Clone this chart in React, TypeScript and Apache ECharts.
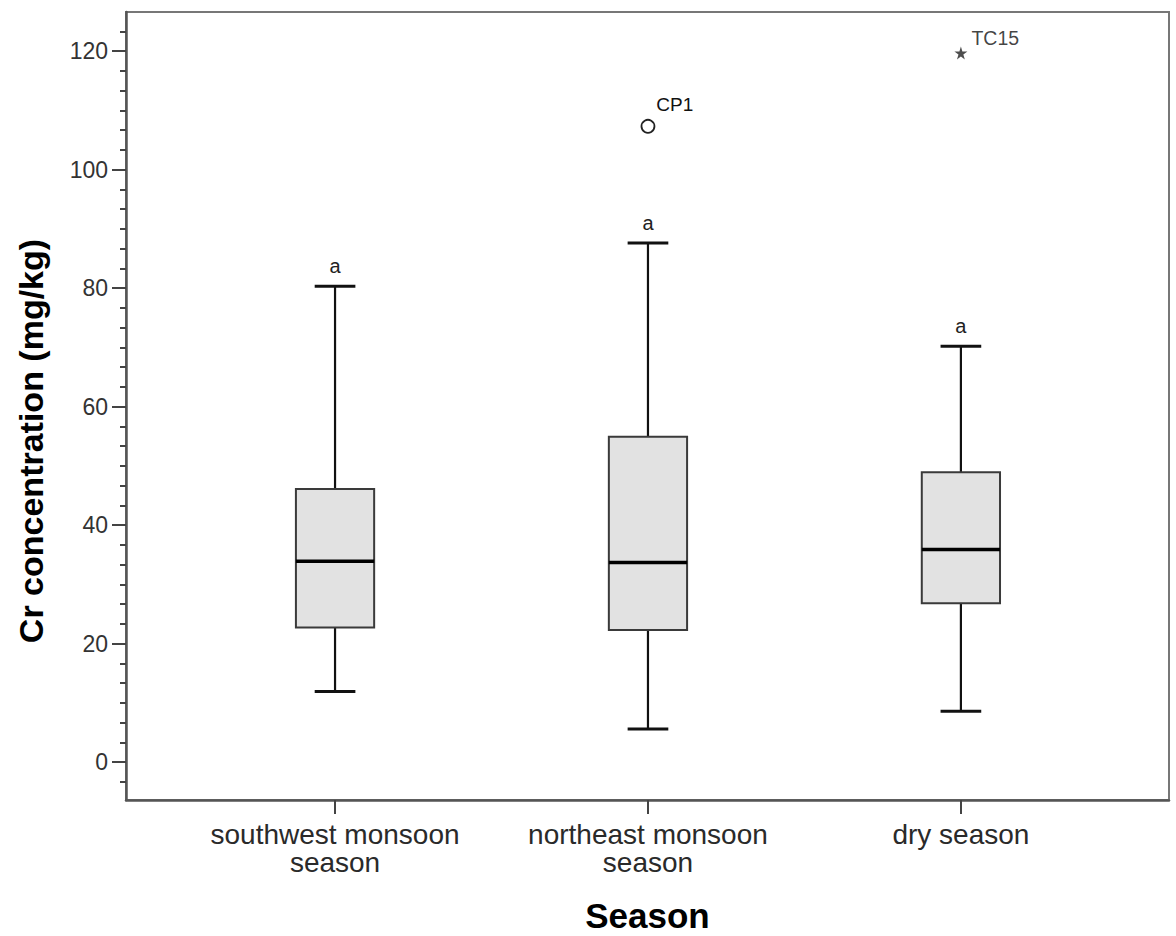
import React, { useEffect, useRef } from "react";
import * as echarts from "echarts";

// ---- data ----
const categories = ["southwest monsoon\nseason", "northeast monsoon\nseason", "dry season"];
const whiskerLow = [11.9, 5.6, 8.6];
const q1 = [22.7, 22.3, 26.8];
const median = [33.9, 33.7, 35.9];
const q3 = [46.1, 54.9, 48.9];
const whiskerHigh = [80.3, 87.6, 70.2];
const sigLetters = ["a", "a", "a"];
const outlierCat = [2];
const outlierValue = [107.3];
const outlierName = ["CP1"];
const extremeCat = [3];
const extremeValue = [119.7];
const extremeName = ["TC15"];
const yTicks = [0, 20, 40, 60, 80, 100, 120];

const FONT = "'Liberation Sans', Arial, sans-serif";
const STAR =
  "path://M50,0 L61,35 L98,35 L68,57 L79,91 L50,70 L21,91 L32,57 L2,35 L39,35 Z";

export default function App() {
  const ref = useRef<HTMLDivElement>(null);
  useEffect(() => {
    if (!ref.current) return;
    const chart = echarts.init(ref.current, null, { renderer: "svg" });

    const yMin = -6.4;
    const yMax = 126.6;
    const minorStep = 20 / 6;
    const minorTicks: number[] = [];
    for (let k = Math.ceil(yMin / minorStep); k * minorStep <= yMax; k++) {
      minorTicks.push(Math.round(k * minorStep * 1000) / 1000);
    }

    const boxData = categories.map((_, i) => [
      i + 1,
      whiskerLow[i],
      q1[i],
      median[i],
      q3[i],
      whiskerHigh[i],
      i,
    ]);

    const renderBox = (params: any, api: any) => {
      const x = api.value(0);
      const idx = api.value(6);
      const pLow = api.coord([x, api.value(1)]);
      const pQ1 = api.coord([x, api.value(2)]);
      const pMed = api.coord([x, api.value(3)]);
      const pQ3 = api.coord([x, api.value(4)]);
      const pHigh = api.coord([x, api.value(5)]);
      const half = api.size([0.25, 0])[0] / 2;
      const capHalf = half * 0.52;
      const cx = pMed[0];
      return {
        type: "group",
        children: [
          {
            type: "line",
            shape: { x1: cx, y1: pHigh[1], x2: cx, y2: pQ3[1] },
            style: { stroke: "#111", lineWidth: 2.2 },
          },
          {
            type: "line",
            shape: { x1: cx, y1: pQ1[1], x2: cx, y2: pLow[1] },
            style: { stroke: "#111", lineWidth: 2.2 },
          },
          {
            type: "line",
            shape: { x1: cx - capHalf, y1: pHigh[1], x2: cx + capHalf, y2: pHigh[1] },
            style: { stroke: "#111", lineWidth: 3 },
          },
          {
            type: "line",
            shape: { x1: cx - capHalf, y1: pLow[1], x2: cx + capHalf, y2: pLow[1] },
            style: { stroke: "#111", lineWidth: 3 },
          },
          {
            type: "rect",
            shape: { x: cx - half, y: pQ3[1], width: half * 2, height: pQ1[1] - pQ3[1] },
            style: { fill: "#e2e2e2", stroke: "#3a3a3a", lineWidth: 2 },
          },
          {
            type: "line",
            shape: { x1: cx - half, y1: pMed[1], x2: cx + half, y2: pMed[1] },
            style: { stroke: "#000", lineWidth: 3.5 },
          },
          {
            type: "text",
            x: cx,
            y: pHigh[1] - 10,
            style: {
              text: sigLetters[idx],
              fontFamily: FONT,
              fontSize: 20,
              fill: "#222",
              align: "center",
              verticalAlign: "bottom",
            },
          },
        ],
      };
    };

    chart.setOption({
      animation: false,
      backgroundColor: "#fff",
      grid: {
        left: 126,
        right: 7,
        top: 12,
        bottom: 136,
        containLabel: false,
        outerBoundsMode: "none",
        show: true,
        borderColor: "#777",
        borderWidth: 2,
        backgroundColor: "transparent",
      },
      xAxis: {
        type: "value",
        min: 0.332,
        max: 3.665,
        name: "Season",
        nameLocation: "middle",
        nameGap: 97,
        nameTextStyle: {
          fontFamily: FONT,
          fontSize: 35,
          lineHeight: 36,
          fontWeight: "bold",
          color: "#000",
        },
        axisLine: { show: true, onZero: false, lineStyle: { color: "#555", width: 2.5 } },
        axisTick: {
          show: true,
          customValues: [1, 2, 3],
          length: 14,
          lineStyle: { color: "#444", width: 2 },
        },
        axisLabel: {
          customValues: [1, 2, 3],
          formatter: (v: number) => categories[Math.round(v) - 1] ?? "",
          fontFamily: FONT,
          fontSize: 28,
          lineHeight: 28,
          color: "#2a2a2a",
          margin: 20,
        },
        splitLine: { show: false },
      },
      yAxis: [
        {
          type: "value",
          min: yMin,
          max: yMax,
          axisLine: { show: true, onZero: false, lineStyle: { color: "#555", width: 2.5 } },
          axisTick: {
            show: true,
            customValues: yTicks,
            length: 14,
            lineStyle: { color: "#444", width: 2 },
          },
          axisLabel: {
            customValues: yTicks,
            fontFamily: FONT,
            fontSize: 23,
            color: "#333",
            margin: 18,
          },
          splitLine: { show: false },
        },
        {
          type: "value",
          min: yMin,
          max: yMax,
          position: "left",
          axisLine: { show: false, onZero: false },
          axisTick: {
            show: true,
            customValues: minorTicks,
            length: 6,
            lineStyle: { color: "#444", width: 2 },
          },
          axisLabel: { show: false },
          splitLine: { show: false },
        },
      ],
      graphic: [
        {
          type: "text",
          x: 31,
          y: 441,
          rotation: Math.PI / 2,
          style: {
            text: "Cr concentration (mg/kg)",
            fontFamily: FONT,
            fontSize: 34,
            fontWeight: "bold",
            fill: "#000",
            align: "center",
            verticalAlign: "middle",
          },
        },
      ],
      series: [
        {
          type: "custom",
          xAxisIndex: 0,
          yAxisIndex: 0,
          renderItem: renderBox,
          encode: { x: 0, y: [1, 2, 3, 4, 5] },
          data: boxData,
          z: 2,
        },
        {
          type: "scatter",
          xAxisIndex: 0,
          yAxisIndex: 0,
          symbol: "circle",
          symbolSize: 13,
          itemStyle: { color: "#ffffff", borderColor: "#222", borderWidth: 1.8, opacity: 1 },
          data: outlierCat.map((c, i) => ({ value: [c, outlierValue[i]], name: outlierName[i] })),
          label: {
            show: true,
            formatter: (p: any) => p.name,
            position: "right",
            distance: 1,
            offset: [0, -22],
            fontFamily: FONT,
            fontSize: 19,
            color: "#111",
          },
          z: 3,
        },
        {
          type: "scatter",
          xAxisIndex: 0,
          yAxisIndex: 0,
          symbol: STAR,
          symbolSize: 13,
          itemStyle: { color: "#222" },
          data: extremeCat.map((c, i) => ({ value: [c, extremeValue[i]], name: extremeName[i] })),
          label: {
            show: true,
            formatter: (p: any) => p.name,
            position: "right",
            distance: 4,
            offset: [0, -15],
            fontFamily: FONT,
            fontSize: 19.5,
            color: "#111",
          },
          z: 3,
        },
      ],
    });
    return () => chart.dispose();
  }, []);

  return (
    <div
      ref={ref}
      style={{ position: "absolute", left: 0, top: 0, width: 1176, height: 936, background: "#fff" }}
    />
  );
}
